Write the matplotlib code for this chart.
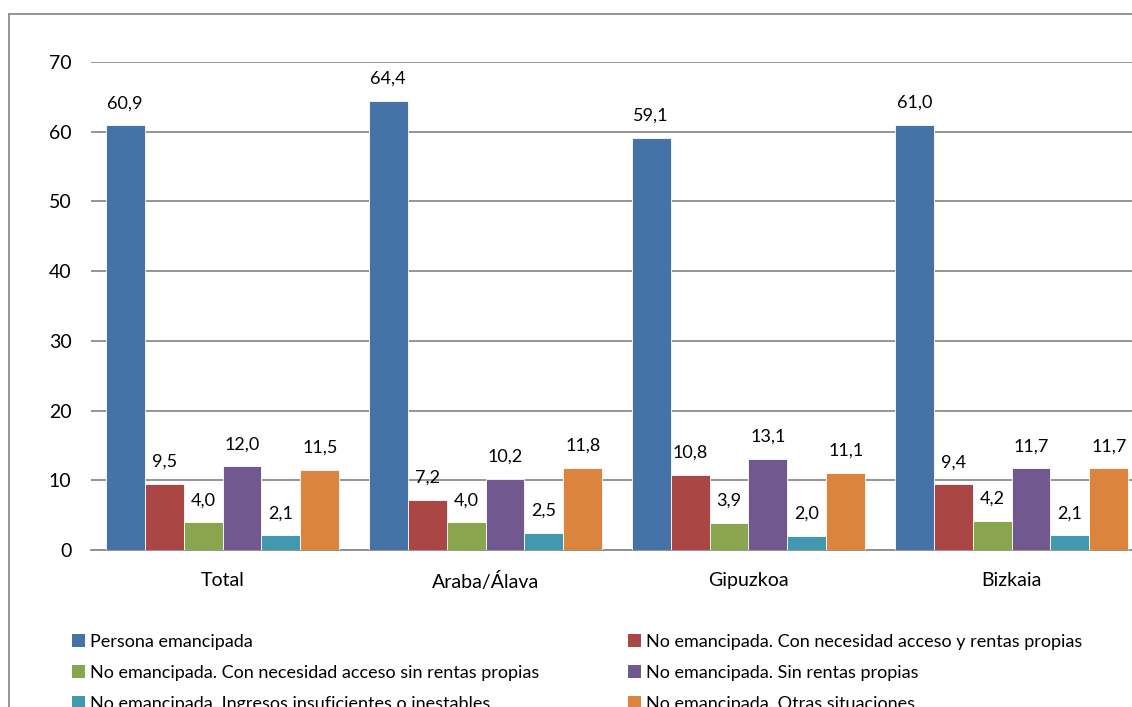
import matplotlib
matplotlib.use("Agg")
import matplotlib.pyplot as plt
from matplotlib.lines import Line2D
from matplotlib.patches import Patch
import numpy as np

plt.rcParams['font.family'] = ['Lato', 'DejaVu Sans']

categories = ["Total", "Araba/Álava", "Gipuzkoa", "Bizkaia"]
series_names = [
    "Persona emancipada",
    "No emancipada. Con necesidad acceso y rentas propias",
    "No emancipada. Con necesidad acceso sin rentas propias",
    "No emancipada. Sin rentas propias",
    "No emancipada. Ingresos insuficientes o inestables",
    "No emancipada. Otras situaciones",
]
emancipada = [60.9, 64.4, 59.1, 61.0]
con_rentas = [9.5, 7.2, 10.8, 9.4]
sin_rentas_acceso = [4.0, 4.0, 3.9, 4.2]
sin_rentas = [12.0, 10.2, 13.1, 11.7]
ingresos_insuf = [2.1, 2.5, 2.0, 2.1]
otras = [11.5, 11.8, 11.1, 11.7]
series_values = [emancipada, con_rentas, sin_rentas_acceso, sin_rentas, ingresos_insuf, otras]
colors = ["#4572A7", "#AA4643", "#89A54E", "#71588F", "#4198AF", "#DB843D"]
yticks = [0, 10, 20, 30, 40, 50, 60, 70]

W, H = 1132, 707
fig = plt.figure(figsize=(W / 100, H / 100), dpi=100)
fig.patch.set_facecolor("white")

# axes: x from 91 px to 1143 px (extends past the right edge), y from 550 px (0) to 62 px (70)
left, right = 91 / W, 1143 / W
bottom, top = 1 - 550 / H, 1 - 62 / H
ax = fig.add_axes([left, bottom, right - left, top - bottom])

n = len(series_names)
bw = 0.148
x = np.arange(len(categories))
for i, (vals, col) in enumerate(zip(series_values, colors)):
    pos = x + (i - (n - 1) / 2) * bw
    bars = ax.bar(pos, vals, width=bw, color=col, edgecolor="white", linewidth=0.6, zorder=3)
    for b, v in zip(bars, vals):
        ax.text(b.get_x() + b.get_width() / 2, v + 2.0, f"{v:.1f}".replace(".", ","),
                ha="center", va="bottom", fontsize=13, color="#000000")

ax.set_xlim(-0.5, len(categories) - 0.5)
ax.set_ylim(0, 70)
ax.set_yticks(yticks)
ax.set_yticklabels([str(t) for t in yticks], fontsize=14)
ax.set_xticks(x)
ax.set_xticklabels(categories, fontsize=14)
ax.tick_params(axis="y", length=0, pad=14)
ax.tick_params(axis="x", length=0, pad=16)
ax.yaxis.grid(True, color="#8C8C8C", linewidth=1.3, zorder=0)
for s in ["top", "right", "left"]:
    ax.spines[s].set_visible(False)
ax.spines["bottom"].set_color("#8C8C8C")
ax.spines["bottom"].set_linewidth(1.3)
ax.set_facecolor("none")

# chart area frame
fig.add_artist(Line2D([9 / W, 1.0], [1 - 14 / H, 1 - 14 / H], color="#8C8C8C", linewidth=1.3))
fig.add_artist(Line2D([9 / W, 9 / W], [1 - 14 / H, 0], color="#8C8C8C", linewidth=1.3))

# legend in two columns
handles = [Patch(facecolor=c, edgecolor="none") for c in colors]
leg_kw = dict(frameon=False, fontsize=13, handlelength=0.7, handleheight=0.7,
              handletextpad=0.3, labelspacing=0.82, borderpad=0, borderaxespad=0,
              loc="upper left")
fig.legend([handles[i] for i in (0, 2, 4)], [series_names[i] for i in (0, 2, 4)],
           bbox_to_anchor=(72 / W, 1 - 634 / H), **leg_kw)
fig.legend([handles[i] for i in (1, 3, 5)], [series_names[i] for i in (1, 3, 5)],
           bbox_to_anchor=(628 / W, 1 - 634 / H), **leg_kw)

fig.savefig("out.png", dpi=100)
